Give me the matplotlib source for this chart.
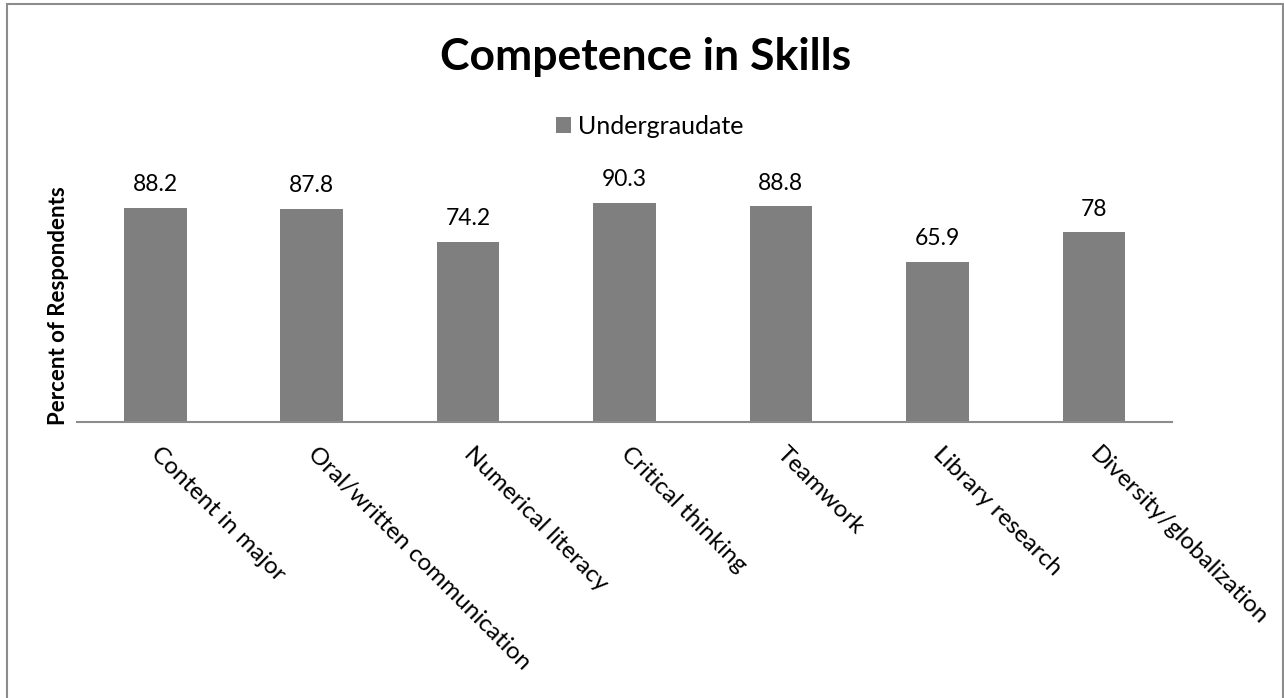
import matplotlib
matplotlib.use("Agg")
import matplotlib.pyplot as plt
from matplotlib.patches import Rectangle, Patch
from matplotlib.transforms import ScaledTranslation

categories = ["Content in major", "Oral/written communication", "Numerical literacy",
              "Critical thinking", "Teamwork", "Library research", "Diversity/globalization"]
values = [88.2, 87.8, 74.2, 90.3, 88.8, 65.9, 78]
series_name = "Undergraudate"
title = "Competence in Skills"
ylabel = "Percent of Respondents"

plt.rcParams['font.family'] = ['Lato', 'DejaVu Sans']

W, H = 1284, 698
fig = plt.figure(figsize=(W / 100, H / 100), dpi=100)
fig.patch.set_facecolor("white")

ax = fig.add_axes([77 / W, 1 - 422 / H, 1095 / W, 243 / H])
x = list(range(len(categories)))
bars = ax.bar(x, values, width=0.4, color="#7f7f7f", label=series_name)
ax.set_xlim(-0.5, len(categories) - 0.5)
ax.set_ylim(0, 100)

for s in ["top", "right", "left"]:
    ax.spines[s].set_visible(False)
ax.spines["bottom"].set_color("#8c8c8c")
ax.spines["bottom"].set_linewidth(1.5)
ax.set_yticks([])
ax.set_xticks(x)
ax.set_xticklabels(categories, rotation=-45, ha="left", va="top",
                   rotation_mode="anchor", fontsize=17.5)
ax.tick_params(axis="x", length=0, pad=15)
offset = ScaledTranslation(5 / 72, 0, fig.dpi_scale_trans)
for lab in ax.get_xticklabels():
    lab.set_transform(lab.get_transform() + offset)

for xi, v in zip(x, values):
    ax.annotate(f"{v:g}", xy=(xi, v), xytext=(0, 12), textcoords="offset points",
                ha="center", va="baseline", fontsize=16.5, clip_on=False)

ax.set_ylabel(ylabel, fontsize=16, fontweight="bold")
ax.yaxis.set_label_coords(-0.0073, 0.477)

fig.text(646 / W, 1 - 57 / H, title, ha="center", va="center",
         fontsize=32, fontweight="bold")

fig.legend(handles=[Patch(facecolor="#7f7f7f", label=series_name)],
           loc="center", bbox_to_anchor=(650 / W, 1 - 126 / H), frameon=False,
           fontsize=18, handlelength=0.6, handleheight=0.6, handletextpad=0.3,
           borderpad=0)

border = Rectangle((6.5 / W, -0.05), (1283 - 6.5) / W, (1 - 3.5 / H) + 0.05,
                   transform=fig.transFigure, fill=False, edgecolor="#8c8c8c",
                   linewidth=1.5, clip_on=False)
fig.patches.append(border)

fig.savefig("out.png", dpi=100, facecolor="white")
